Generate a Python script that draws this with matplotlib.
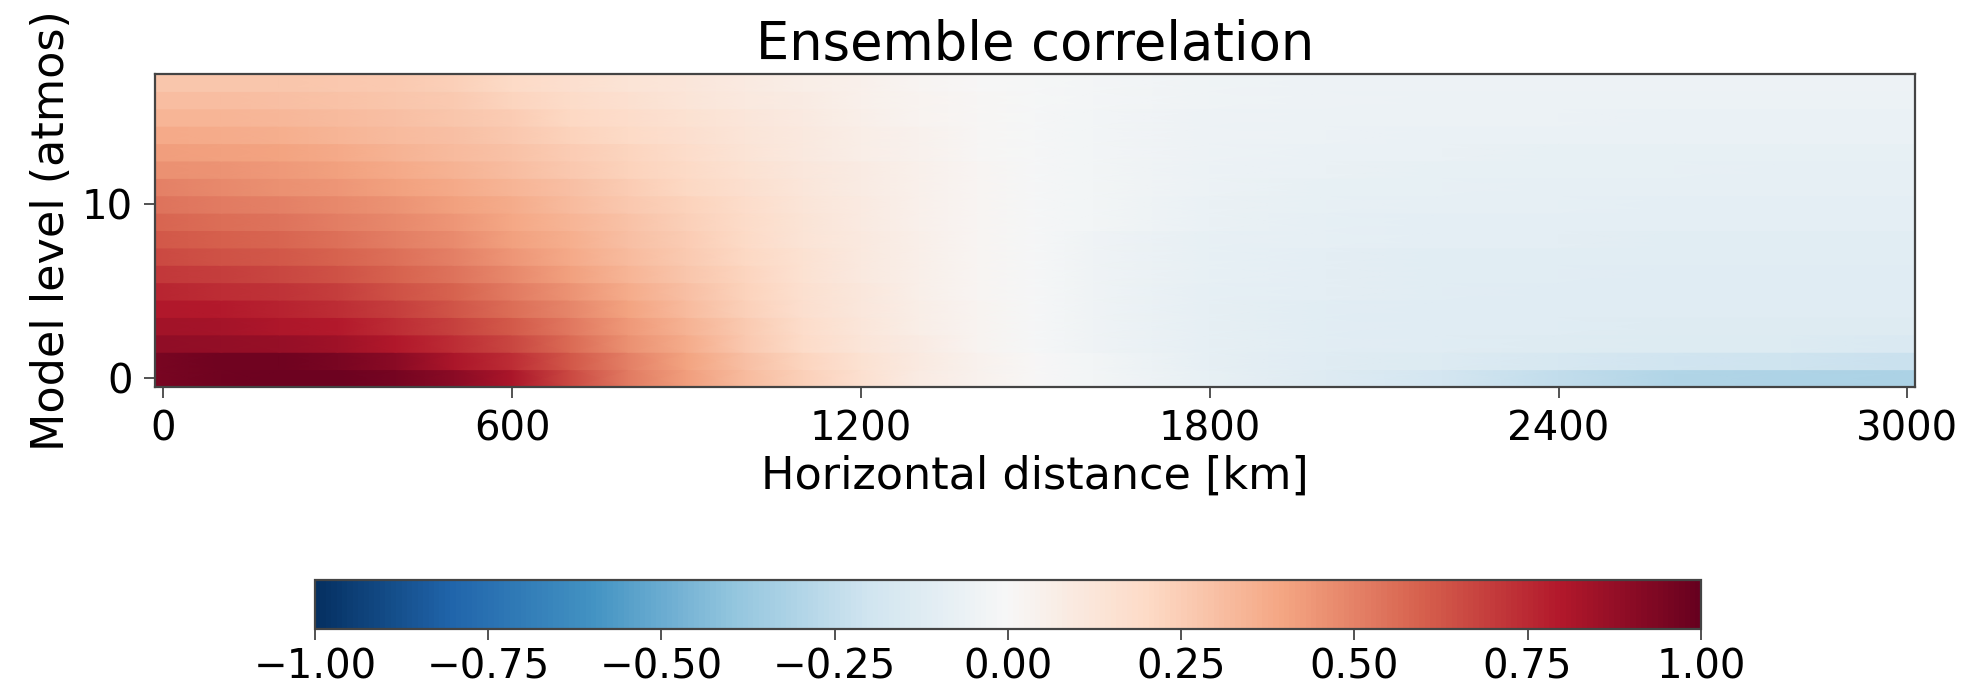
import numpy as np
import matplotlib
matplotlib.use("Agg")
import matplotlib.pyplot as plt

## Odleglosci [km] dla kolumn i korelacja dla kazdego poziomu modelu
distance_km = [0, 100, 200, 300, 400, 500, 600, 700, 800, 900, 1000, 1100,
               1200, 1300, 1400, 1500, 1600, 1800, 2000, 2200, 2400, 2600, 2800, 3000]
model_levels = list(range(18))

level_00 = [0.95, 0.97, 0.98, 0.98, 0.96, 0.90, 0.82, 0.66, 0.52, 0.42, 0.32, 0.24, 0.16, 0.08, 0.04, 0.00, -0.03, -0.08, -0.13, -0.18, -0.25, -0.30, -0.31, -0.32]
level_01 = [0.95, 0.97, 0.97, 0.95, 0.90, 0.82, 0.74, 0.62, 0.50, 0.40, 0.30, 0.22, 0.15, 0.09, 0.04, 0.00, -0.03, -0.09, -0.12, -0.14, -0.17, -0.20, -0.21, -0.22]
level_02 = [0.89, 0.88, 0.87, 0.85, 0.80, 0.74, 0.67, 0.57, 0.46, 0.37, 0.27, 0.19, 0.13, 0.08, 0.03, -0.01, -0.04, -0.09, -0.11, -0.12, -0.13, -0.14, -0.14, -0.15]
level_03 = [0.84, 0.83, 0.81, 0.79, 0.74, 0.68, 0.61, 0.53, 0.43, 0.35, 0.26, 0.18, 0.12, 0.07, 0.03, -0.01, -0.04, -0.09, -0.11, -0.12, -0.12, -0.13, -0.13, -0.13]
level_04 = [0.80, 0.79, 0.77, 0.74, 0.69, 0.63, 0.56, 0.49, 0.40, 0.32, 0.24, 0.17, 0.11, 0.07, 0.03, -0.01, -0.04, -0.09, -0.11, -0.12, -0.12, -0.12, -0.12, -0.12]
level_05 = [0.76, 0.74, 0.72, 0.69, 0.64, 0.59, 0.52, 0.45, 0.37, 0.30, 0.23, 0.16, 0.11, 0.06, 0.02, -0.01, -0.04, -0.09, -0.10, -0.11, -0.12, -0.12, -0.12, -0.12]
level_06 = [0.71, 0.69, 0.67, 0.64, 0.59, 0.54, 0.48, 0.41, 0.34, 0.28, 0.22, 0.15, 0.10, 0.06, 0.02, -0.01, -0.04, -0.08, -0.10, -0.11, -0.11, -0.12, -0.12, -0.12]
level_07 = [0.66, 0.64, 0.62, 0.59, 0.55, 0.50, 0.44, 0.38, 0.32, 0.26, 0.21, 0.15, 0.10, 0.06, 0.02, -0.01, -0.04, -0.08, -0.10, -0.11, -0.11, -0.11, -0.11, -0.11]
level_08 = [0.62, 0.60, 0.58, 0.55, 0.51, 0.47, 0.41, 0.36, 0.30, 0.25, 0.20, 0.14, 0.10, 0.06, 0.02, -0.01, -0.04, -0.08, -0.09, -0.10, -0.10, -0.11, -0.11, -0.11]
level_09 = [0.58, 0.56, 0.54, 0.51, 0.48, 0.44, 0.39, 0.34, 0.29, 0.24, 0.19, 0.14, 0.09, 0.05, 0.02, -0.01, -0.03, -0.07, -0.09, -0.10, -0.10, -0.10, -0.10, -0.10]
level_10 = [0.54, 0.52, 0.50, 0.48, 0.45, 0.41, 0.37, 0.32, 0.27, 0.23, 0.18, 0.13, 0.09, 0.05, 0.02, -0.01, -0.03, -0.07, -0.08, -0.09, -0.09, -0.10, -0.10, -0.10]
level_11 = [0.50, 0.48, 0.46, 0.44, 0.41, 0.38, 0.34, 0.30, 0.25, 0.21, 0.17, 0.12, 0.08, 0.05, 0.02, -0.01, -0.03, -0.06, -0.08, -0.08, -0.09, -0.09, -0.09, -0.09]
level_12 = [0.46, 0.45, 0.43, 0.41, 0.38, 0.35, 0.31, 0.27, 0.23, 0.20, 0.15, 0.11, 0.08, 0.05, 0.02, -0.01, -0.03, -0.06, -0.07, -0.08, -0.08, -0.08, -0.09, -0.09]
level_13 = [0.42, 0.41, 0.40, 0.38, 0.35, 0.32, 0.29, 0.25, 0.22, 0.18, 0.14, 0.10, 0.07, 0.04, 0.01, -0.01, -0.03, -0.05, -0.07, -0.07, -0.08, -0.08, -0.08, -0.08]
level_14 = [0.38, 0.37, 0.36, 0.34, 0.32, 0.30, 0.27, 0.23, 0.20, 0.17, 0.13, 0.10, 0.07, 0.04, 0.01, -0.01, -0.03, -0.05, -0.06, -0.07, -0.07, -0.07, -0.07, -0.07]
level_15 = [0.34, 0.34, 0.33, 0.32, 0.30, 0.28, 0.25, 0.21, 0.18, 0.15, 0.12, 0.09, 0.06, 0.03, 0.01, -0.01, -0.03, -0.05, -0.06, -0.06, -0.06, -0.07, -0.07, -0.07]
level_16 = [0.31, 0.31, 0.30, 0.29, 0.28, 0.26, 0.22, 0.19, 0.16, 0.13, 0.10, 0.08, 0.05, 0.03, 0.01, -0.01, -0.02, -0.04, -0.05, -0.06, -0.06, -0.06, -0.06, -0.06]
level_17 = [0.28, 0.28, 0.28, 0.27, 0.26, 0.24, 0.20, 0.17, 0.14, 0.12, 0.09, 0.07, 0.05, 0.02, 0.00, -0.01, -0.02, -0.04, -0.05, -0.05, -0.05, -0.05, -0.05, -0.05]

x_ticks = [0, 600, 1200, 1800, 2400, 3000]
y_ticks = [0, 10]
cbar_ticks = [-1.0, -0.75, -0.5, -0.25, 0.0, 0.25, 0.5, 0.75, 1.0]

corr = np.array([level_00, level_01, level_02, level_03, level_04, level_05,
                 level_06, level_07, level_08, level_09, level_10, level_11,
                 level_12, level_13, level_14, level_15, level_16, level_17])

## Kazdy poziom jako pasek o stalej wartosci w pionie, plynny w poziomie
half_cell = 14.0
x_mesh = np.array(distance_km, dtype=float)
x_mesh[0] -= half_cell
x_mesh[-1] += half_cell
lev = np.array(model_levels, dtype=float)
y_rows = np.column_stack([lev - 0.5, lev + 0.5]).ravel()
X, Y = np.meshgrid(x_mesh, y_rows)
C = np.repeat(corr, 2, axis=0)

tick_fs = 29
label_fs = 32
title_fs = 38
spine_col = '#444444'

fig = plt.figure(figsize=(19.72, 7), dpi=100)
ax = fig.add_axes([0.0786, 0.4471, 0.8925, 0.4471])
cax = fig.add_axes([0.1597, 0.1014, 0.7028, 0.07])

mesh = ax.pcolormesh(X, Y, C, cmap='RdBu_r', vmin=-1, vmax=1, shading='gouraud')
ax.set_xlim(-half_cell, 3013)
ax.set_ylim(-0.5, 17.5)
ax.set_xticks(x_ticks)
ax.set_yticks(y_ticks)
ax.tick_params(labelsize=tick_fs, length=8, width=1.3, color=spine_col, pad=8)
for s in ax.spines.values():
    s.set_color(spine_col)
    s.set_linewidth(1.6)

ax.set_title('Ensemble correlation', fontsize=title_fs, pad=10)
ax.set_xlabel('Horizontal distance [km]', fontsize=label_fs, labelpad=4)
ax.set_ylabel('Model level (atmos)', fontsize=label_fs, labelpad=6)

cb = fig.colorbar(mesh, cax=cax, orientation='horizontal', ticks=cbar_ticks)
cb.ax.tick_params(labelsize=tick_fs, length=8, width=1.3, color=spine_col, pad=5)
cb.outline.set_edgecolor(spine_col)
cb.outline.set_linewidth(1.6)

fig.savefig('out.png', dpi=100)
